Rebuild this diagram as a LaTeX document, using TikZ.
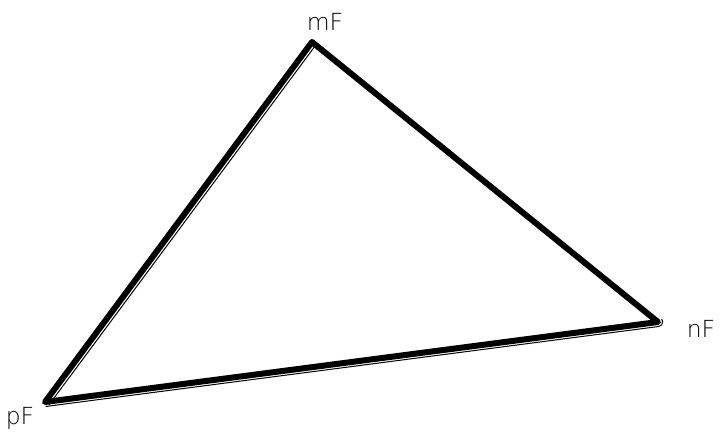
\documentclass[tikz,border=0pt]{standalone}
\usepackage{fontspec}
\newfontfamily\lightfont{DejaVu Sans ExtraLight}
\begin{document}
\begin{tikzpicture}[x=1pt,y=-1pt,
  edge/.style={line width=6pt,line join=round,line cap=round},
  thinedge/.style={line width=1pt},
  lbl/.style={font=\lightfont\fontsize{23.5}{28}\selectfont,inner sep=0pt}]
\useasboundingbox (0,0) rectangle (721,437);
\coordinate (m) at (312,42);
\coordinate (n) at (658,322);
\coordinate (p) at (45,402);
\node[lbl] (ml) at (325,22) {mF};
\node[lbl] (nl) at (701,329) {nF};
\node[lbl] (pl) at (20,418) {pF};
\draw[thinedge] ([shift={(3.9,2.9)}]p) -- ([shift={(3.9,2.9)}]m);
\draw[thinedge] ([shift={(0.6,4.5)}]p) -- ([shift={(0.6,4.5)}]n) arc[start angle=85,end angle=-40,radius=4.5];
\draw[edge] (m) -- (n) -- (p) -- cycle;
\end{tikzpicture}
\end{document}
